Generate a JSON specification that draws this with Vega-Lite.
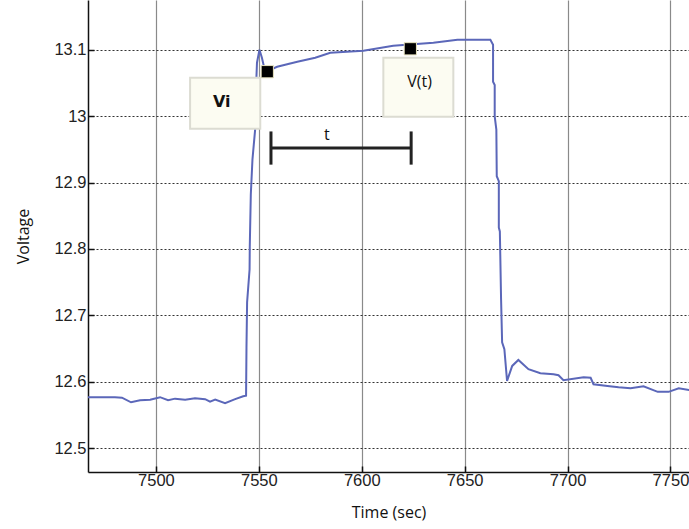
{
  "$schema": "https://vega.github.io/schema/vega-lite/v6.json",
  "width": 601,
  "height": 472,
  "autosize": {"type": "none"},
  "padding": {"left": 88, "top": 0, "right": 0, "bottom": 57},
  "background": "white",
  "config": {
    "view": {"stroke": null},
    "axis": {
      "labelFont": "Liberation Sans",
      "labelFontSize": 16.5,
      "labelColor": "#222",
      "titleFont": "Open Sans",
      "titleFontSize": 16,
      "titleFontWeight": "normal",
      "titleColor": "#111",
      "domainColor": "#111",
      "domainWidth": 1.5,
      "tickColor": "#111",
      "tickWidth": 1.5,
      "tickSize": -6
    }
  },
  "datasets": {
    "volt": [
      {"t": 7467.0, "v": 12.5767}, {"t": 7480.1, "v": 12.5767}, {"t": 7483.5, "v": 12.576},
      {"t": 7487.9, "v": 12.569}, {"t": 7492.3, "v": 12.572}, {"t": 7497.2, "v": 12.573},
      {"t": 7502.0, "v": 12.5767}, {"t": 7505.9, "v": 12.572}, {"t": 7509.3, "v": 12.5745},
      {"t": 7514.2, "v": 12.573}, {"t": 7519.0, "v": 12.5752}, {"t": 7523.9, "v": 12.5737},
      {"t": 7526.3, "v": 12.570}, {"t": 7528.8, "v": 12.573}, {"t": 7533.6, "v": 12.5677},
      {"t": 7538.5, "v": 12.5737}, {"t": 7542.4, "v": 12.5782}, {"t": 7543.8, "v": 12.579},
      {"t": 7544.0, "v": 12.652}, {"t": 7544.3, "v": 12.7195}, {"t": 7545.5, "v": 12.769},
      {"t": 7545.6, "v": 12.804}, {"t": 7546.1, "v": 12.882}, {"t": 7546.9, "v": 12.9346},
      {"t": 7548.2, "v": 12.9797}, {"t": 7548.6, "v": 13.0398}, {"t": 7549.1, "v": 13.0805},
      {"t": 7550.3, "v": 13.1}, {"t": 7551.5, "v": 13.088}, {"t": 7552.6, "v": 13.0729},
      {"t": 7554.5, "v": 13.0684}, {"t": 7558.9, "v": 13.0744}, {"t": 7568.7, "v": 13.082},
      {"t": 7577.4, "v": 13.088}, {"t": 7584.7, "v": 13.0955}, {"t": 7600.8, "v": 13.0985},
      {"t": 7615.3, "v": 13.106}, {"t": 7634.8, "v": 13.1105}, {"t": 7646.5, "v": 13.115},
      {"t": 7662.5, "v": 13.115}, {"t": 7663.8, "v": 13.1075}, {"t": 7663.8, "v": 13.052},
      {"t": 7664.6, "v": 13.047}, {"t": 7664.6, "v": 12.9997}, {"t": 7665.4, "v": 12.9797},
      {"t": 7665.6, "v": 12.9095}, {"t": 7666.6, "v": 12.902}, {"t": 7666.6, "v": 12.8323},
      {"t": 7667.1, "v": 12.8263}, {"t": 7667.7, "v": 12.724}, {"t": 7668.2, "v": 12.6594},
      {"t": 7669.3, "v": 12.6489}, {"t": 7670.6, "v": 12.6012}, {"t": 7673.1, "v": 12.6238},
      {"t": 7676.1, "v": 12.6328}, {"t": 7681.0, "v": 12.6188}, {"t": 7686.8, "v": 12.6128},
      {"t": 7693.2, "v": 12.6113}, {"t": 7695.6, "v": 12.6098}, {"t": 7698.0, "v": 12.6023},
      {"t": 7707.8, "v": 12.6068}, {"t": 7711.2, "v": 12.606}, {"t": 7712.6, "v": 12.5962},
      {"t": 7719.4, "v": 12.5937}, {"t": 7724.8, "v": 12.5917}, {"t": 7730.6, "v": 12.5902},
      {"t": 7736.9, "v": 12.5932}, {"t": 7743.8, "v": 12.5847}, {"t": 7749.1, "v": 12.5847},
      {"t": 7754.0, "v": 12.5902}, {"t": 7759.3, "v": 12.5872}
    ],
    "boxes": [
      {"x1": 7516.6, "x2": 7550.7, "y1": 13.058, "y2": 12.981},
      {"x1": 7610.5, "x2": 7644.5, "y1": 13.088, "y2": 12.999}
    ],
    "squares": [
      {"t": 7554.1, "v": 13.067},
      {"t": 7623.6, "v": 13.1015}
    ],
    "bracketH": [
      {"x1": 7555.9, "x2": 7624.0, "y": 12.952}
    ],
    "bracketV": [
      {"x": 7555.9, "y1": 12.977, "y2": 12.927},
      {"x": 7624.0, "y1": 12.977, "y2": 12.927}
    ],
    "boldLabels": [
      {"x": 7532.0, "y": 13.022, "label": "Vi"}
    ],
    "labels": [
      {"x": 7628.1, "y": 13.052, "label": "V(t)"},
      {"x": 7583.1, "y": 12.972, "label": "t"}
    ]
  },
  "layer": [
    {
      "data": {"name": "volt"},
      "mark": {"type": "line", "color": "#5b67b9", "strokeWidth": 2, "clip": true},
      "encoding": {
        "x": {
          "field": "t", "type": "quantitative",
          "scale": {"domain": [7467, 7759], "nice": false, "zero": false},
          "axis": {
            "values": [7500, 7550, 7600, 7650, 7700, 7750],
            "format": "d",
            "title": "Time (sec)",
            "titlePadding": 16,
            "labelPadding": 6,
            "grid": true,
            "gridColor": "#8a8a8a",
            "gridWidth": 1.2,
            "gridOpacity": 1
          }
        },
        "y": {
          "field": "v", "type": "quantitative",
          "scale": {"domain": [12.464, 13.175], "nice": false, "zero": false},
          "axis": {
            "values": [12.5, 12.6, 12.7, 12.8, 12.9, 13.0, 13.1],
            "format": "~g",
            "title": "Voltage",
            "titlePadding": 22,
            "labelPadding": 8,
            "grid": true,
            "gridColor": "#333",
            "gridDash": [2, 2],
            "gridWidth": 1,
            "gridOpacity": 1
          }
        }
      }
    },
    {
      "data": {"name": "boxes"},
      "mark": {"type": "rect", "fill": "#fcfcf2", "stroke": "#dcdcd2", "strokeWidth": 2},
      "encoding": {
        "x": {"field": "x1", "type": "quantitative"},
        "x2": {"field": "x2"},
        "y": {"field": "y1", "type": "quantitative"},
        "y2": {"field": "y2"}
      }
    },
    {
      "data": {"name": "squares"},
      "mark": {"type": "square", "filled": true, "color": "black", "opacity": 1, "size": 150, "stroke": "#e8e4c0", "strokeWidth": 1},
      "encoding": {
        "x": {"field": "t", "type": "quantitative"},
        "y": {"field": "v", "type": "quantitative"}
      }
    },
    {
      "data": {"name": "bracketH"},
      "mark": {"type": "rule", "color": "#222", "strokeWidth": 3},
      "encoding": {
        "x": {"field": "x1", "type": "quantitative"},
        "x2": {"field": "x2"},
        "y": {"field": "y", "type": "quantitative"}
      }
    },
    {
      "data": {"name": "bracketV"},
      "mark": {"type": "rule", "color": "#222", "strokeWidth": 3},
      "encoding": {
        "x": {"field": "x", "type": "quantitative"},
        "y": {"field": "y1", "type": "quantitative"},
        "y2": {"field": "y2"}
      }
    },
    {
      "data": {"name": "boldLabels"},
      "mark": {"type": "text", "font": "DejaVu Sans", "fontWeight": "bold", "fontSize": 16, "color": "#111"},
      "encoding": {
        "x": {"field": "x", "type": "quantitative"},
        "y": {"field": "y", "type": "quantitative"},
        "text": {"field": "label"}
      }
    },
    {
      "data": {"name": "labels"},
      "mark": {"type": "text", "font": "Open Sans", "fontSize": 16, "color": "#111"},
      "encoding": {
        "x": {"field": "x", "type": "quantitative"},
        "y": {"field": "y", "type": "quantitative"},
        "text": {"field": "label"}
      }
    }
  ]
}
